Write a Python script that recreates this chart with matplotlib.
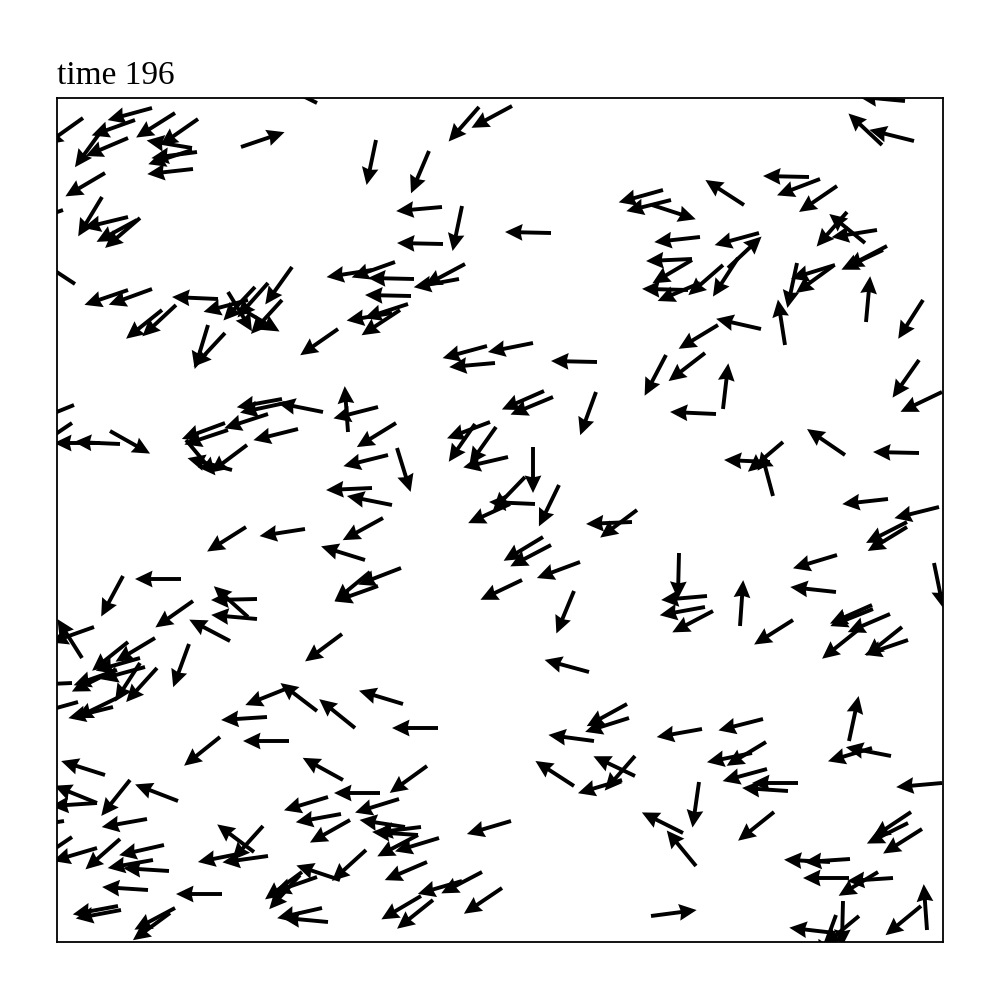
import numpy as np
import matplotlib
matplotlib.use("Agg")
import matplotlib.pyplot as plt

# Particle positions (box units 0..886 wide, 0..844 tall) and velocity directions
x = [
    260,95,78,26,71,45,118,141,135,140,135,136,48,184,6,45,71,83,80,18,95,71,161,235,315,
    422,455,319,372,385,405,494,386,408,402,357,338,354,
    848,825,857,752,763,780,687,606,614,595,643,702,671,681,635,635,666,631,643,778,776,740,790,808,820,830,826,809,866,728,
    105,119,198,211,191,171,225,183,151,168,281,17,15,63,43,53,168,171,211,225,228,266,241,190,175,129,291,321,331,
    343,351,335,430,476,438,540,487,496,539,339,340,433,418,439,451,476,468,478,502,453,315,335,
    704,661,648,609,666,659,862,885,788,862,726,713,716,831,882,
    189,248,308,326,124,66,136,200,200,191,173,285,313,37,25,98,71,83,88,83,100,56,60,56,60,21,15,132,210,260,231,298,
    575,580,344,321,486,494,523,465,517,532,346,381,570,572,
    850,850,780,779,877,622,650,648,656,683,736,815,816,833,801,845,851,792,706,
    163,232,48,286,73,121,40,40,7,90,15,40,63,107,96,112,91,165,64,61,118,113,206,197,211,186,271,284,293,323,309,283,245,260,243,265,271,
    537,517,578,578,565,370,342,348,364,361,382,361,454,370,425,405,364,376,445,
    645,709,695,710,741,731,642,626,639,717,834,815,885,854,851,865,793,773,792,836,821,786,802,778,779,870,864,594,
]
y = [
    839,834,822,824,804,812,829,823,794,790,792,773,769,795,732,745,725,724,722,658,653,652,643,675,672,
    835,836,802,791,735,736,709,698,678,663,663,680,646,
    841,797,801,765,763,756,737,752,742,737,705,709,674,684,683,682,677,652,659,677,676,679,730,699,712,696,692,620,642,597,
    632,637,655,659,642,650,642,634,617,609,613,537,519,498,499,511,519,512,528,543,539,530,513,497,472,502,510,535,487,
    632,638,629,596,599,579,580,551,545,550,519,494,520,518,515,485,495,465,438,457,438,454,437,
    613,617,589,587,533,528,582,550,487,489,500,480,446,443,435,
    415,413,382,424,363,366,341,343,323,325,301,308,370,315,284,304,300,284,275,279,274,271,272,235,244,240,259,298,225,231,254,214,
    420,432,374,356,405,397,380,362,351,270,238,214,238,224,
    420,415,387,350,379,389,346,335,331,316,322,337,333,328,312,315,302,201,223,
    205,201,167,162,162,141,139,139,121,123,105,94,103,97,82,71,52,48,32,36,34,29,116,90,86,89,145,128,122,149,92,62,70,65,67,34,20,
    201,156,166,186,162,176,143,115,115,107,104,107,121,80,70,61,46,42,54,
    213,200,189,173,159,151,160,109,76,130,186,194,159,130,119,113,83,80,64,64,70,41,26,9,27,12,36,26,
]
vx = [
    -14,-44,-42,-38,-40,-24,-38,-33,-42,-45,-40,-45,-39,44,-43,-23,-41,-35,-37,-38,-44,-41,-46,-25,-45,
    -29,-39,-9,-17,-45,-9,-45,-46,-43,-44,-44,-42,-46,
    -43,-33,-44,-46,-42,-38,-37,-43,-44,43,-45,-44,32,-26,-45,-39,-31,-40,-40,-42,-33,-9,-29,-32,-44,-44,-38,4,-23,-7,
    -35,-29,-33,-31,-45,25,-32,37,-13,-27,-36,-42,-37,-45,-44,39,-46,-45,-43,-44,-42,-45,-44,-36,-45,30,-3,-43,-44,
    -35,-40,-42,-44,-45,-45,-45,-41,-41,-15,-39,13,-42,-25,-29,-43,0,-27,-45,-17,-35,-45,-45,
    -44,-38,-35,-21,5,-45,-26,-46,-38,-46,-33,-45,-11,-45,-44,
    -38,-45,-45,-40,-46,-21,-37,-45,-45,-30,-40,-35,-34,-42,-24,-40,-35,-42,-40,-22,-29,-36,-37,-40,-35,-43,-44,-15,-46,-34,-35,-31,
    -47,-36,-44,-42,-38,-40,-43,-42,-17,-44,-43,-45,-40,-38,
    -45,-36,-43,-46,8,-1,-46,-44,-40,3,-38,-43,-40,-42,-35,-35,-41,9,-43,
    -35,-46,-44,-40,-28,-44,-42,-45,-44,-45,-37,-44,-33,-44,-45,-47,-46,-45,-48,-43,-47,-30,-28,-36,-50,-45,-43,-44,-39,-45,-33,-42,-27,-40,-27,-44,-43,
    -45,-37,-40,-28,-40,-36,-42,-45,-49,-45,-46,-40,-44,-42,-40,-41,-39,-35,-37,
    -45,-38,-44,-44,-43,-45,-6,-38,-28,-35,-46,-43,-45,-39,-40,-38,-45,-40,-46,-45,-38,-1,-29,-43,-11,-3,-34,46,
]
vy = [
    7,-12,-15,-27,-17,-33,-24,-23,7,-6,-13,-5,-23,15,-15,-38,-10,-30,-20,25,-16,-14,2,-35,-7,
    -33,-21,-43,-40,-4,-43,1,1,-23,-8,1,-15,1,
    4,31,11,1,-16,-26,24,-12,-11,-14,-5,-12,30,-40,-2,-23,-27,1,-17,-13,-24,-42,-33,26,-7,-23,-18,44,-36,45,
    -28,-27,-35,-35,-12,-41,-35,-22,-43,-29,-25,-17,-25,2,0,-22,-17,-15,-14,-8,-9,9,-11,-27,12,-36,42,-11,-11,
    -23,-13,-7,-12,-9,-4,1,-18,-17,-41,-24,-42,-16,-36,-41,-10,-43,-28,2,-35,-16,-2,9,
    10,-23,-27,-40,43,2,-37,-22,26,1,-28,2,41,-5,-11,
    -24,-7,14,-22,0,-39,-26,-1,4,27,21,-26,-28,-15,38,-24,-28,-12,-11,-34,-32,-18,-13,-10,-17,-12,-2,-41,-3,26,-14,25,
    -2,-27,-17,-15,-23,-21,-16,-20,-41,12,13,0,-22,-12,
    -23,-22,-13,5,-39,-42,-4,-8,-21,43,-24,-19,-16,-18,-28,-28,-14,42,-11,
    -28,0,14,22,-35,17,17,-3,-7,-8,-25,-13,-29,-10,-8,3,3,0,-9,-8,-25,-22,-31,27,-7,-9,-13,-8,-22,0,-30,14,-20,-14,-30,-10,4,
    6,24,19,-32,-12,-26,-13,7,-6,3,-14,-21,-13,-18,-21,-12,-23,-28,-25,
    -8,-23,-9,-12,0,3,-42,19,34,-28,9,-13,-4,-26,-20,-24,-3,2,0,-3,-23,-40,-24,5,-30,42,-28,6,
]
title_text = "time 196"
box_w, box_h = 886, 844
arrow_len = 46

assert len(x) == len(y) == len(vx) == len(vy), (len(x), len(y), len(vx), len(vy))

X = np.array(x, float); Y = np.array(y, float)
U = np.array(vx, float); V = np.array(vy, float)
nrm = np.hypot(U, V)
U, V = U / nrm, V / nrm

fig = plt.figure(figsize=(10, 10), dpi=100)
ax = fig.add_axes([0.057, 0.058, 0.886, 0.844])
ax.quiver(X, Y, U, V, angles="xy", scale_units="xy", scale=1.0 / arrow_len,
          width=0.0044, headwidth=4.3, headlength=4.5, headaxislength=4.1,
          color="black")
ax.set_xlim(0, box_w)
ax.set_ylim(0, box_h)
ax.set_xticks([]); ax.set_yticks([])
for s in ax.spines.values():
    s.set_linewidth(1.3)
ax.set_title(title_text, loc="left", fontsize=24, fontfamily="Liberation Serif", pad=10)
fig.savefig("out.png", dpi=100)
